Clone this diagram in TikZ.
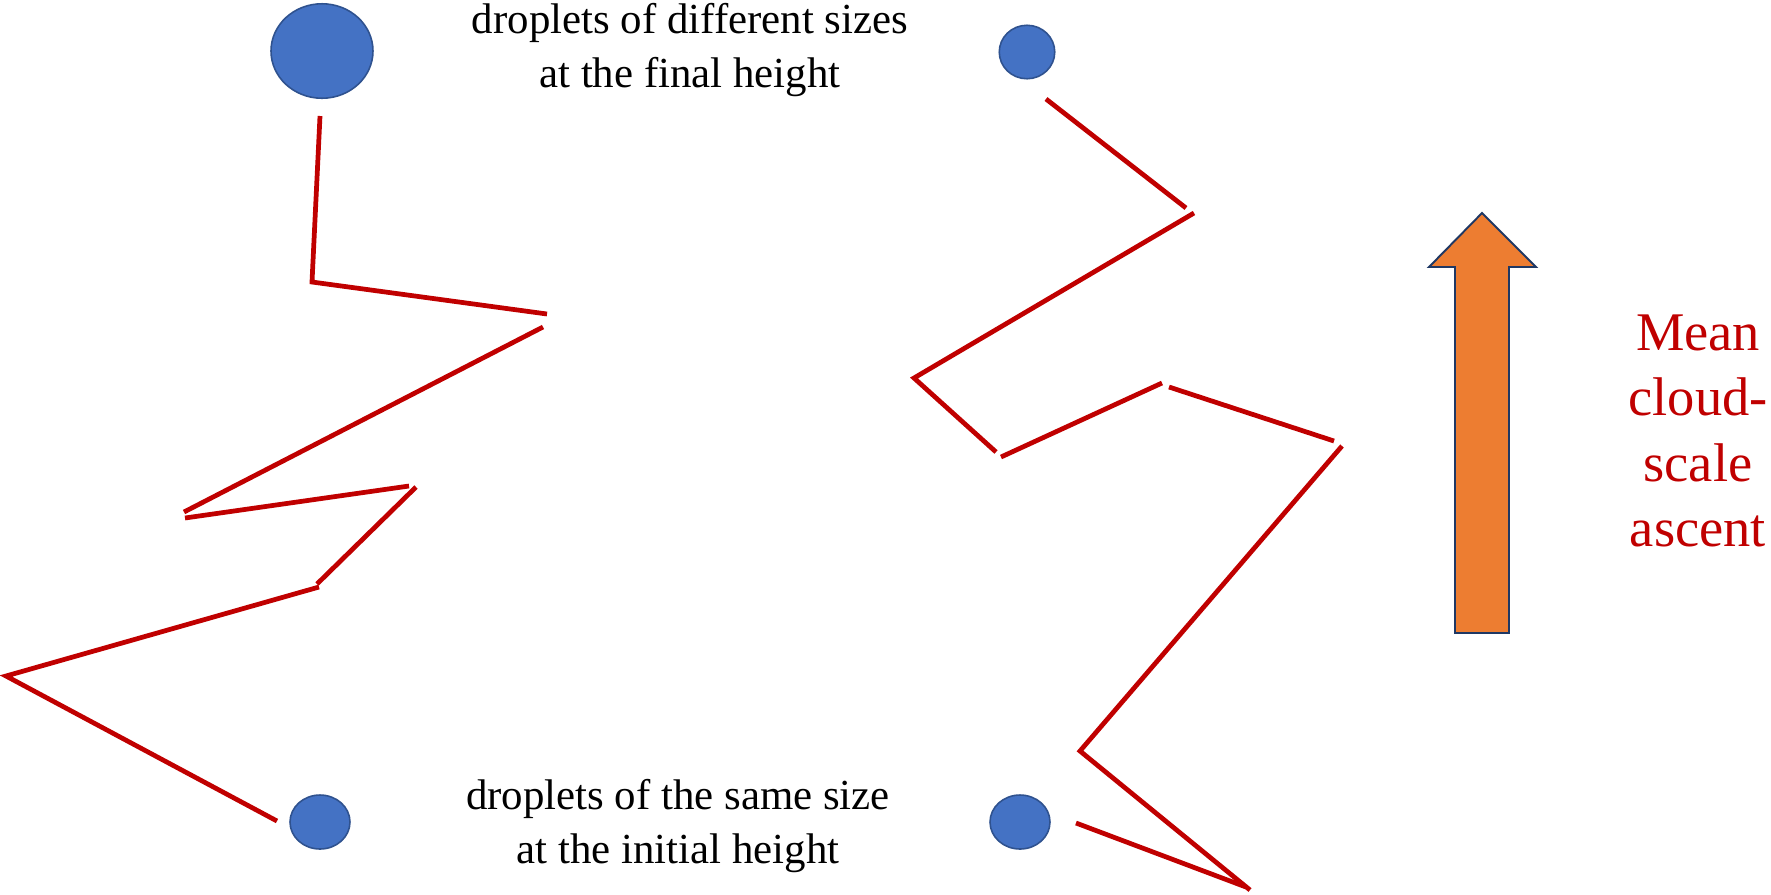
\documentclass[tikz,border=0pt]{standalone}
\usepackage{fontspec}
\setmainfont{Liberation Serif}
\usetikzlibrary{shapes.geometric}
\definecolor{dropblue}{HTML}{4472C4}
\definecolor{dropedge}{HTML}{2F528F}
\definecolor{trackred}{HTML}{C00000}
\definecolor{ascentorange}{HTML}{ED7D31}
\definecolor{ascentedge}{HTML}{1F3864}
\tikzset{
  droplet/.style={
    ellipse,
    draw=dropedge,
    fill=dropblue,
    line width=0.9pt,
    inner sep=0pt
  },
  track/.style={draw=trackred, line width=2.7pt},
  caption/.style={align=center, inner sep=0pt, font=\fontsize{24.4}{31}\selectfont},
  ascentlabel/.style={align=center, inner sep=0pt, text=trackred, font=\fontsize{31}{37.3}\selectfont},
  ascentarrow/.style={draw=ascentedge, fill=ascentorange, line width=1.1pt}
}
\newcommand{\droplet}[4]{\node[droplet, minimum width=#3, minimum height=#4] (#1) at #2 {};}

\begin{document}
\begin{tikzpicture}[x=0.02cm, y=-0.02cm]
  \useasboundingbox (0,0) rectangle (1771,894);
  \droplet{big}{(322,51)}{2.04cm}{1.89cm}
  \droplet{topsmall}{(1027,52)}{1.11cm}{1.07cm}
  \droplet{leftstart}{(320,822)}{1.2cm}{1.08cm}
  \droplet{rightstart}{(1020,822)}{1.2cm}{1.08cm}
  \node[caption] (final) at (690,50) {droplets of different sizes\\at the final height};
  \node[caption] (initial) at (678,826) {droplets of the same size\\at the initial height};
  \node[ascentlabel] (ascent) at (1698,431) {Mean\\cloud-\\scale\\ascent};
  % left trajectory
  \coordinate (a1) at (320,116);  \coordinate (a2) at (312,282);  \coordinate (a3) at (547,314);
  \coordinate (a4) at (543,327);  \coordinate (a5) at (184,512);
  \coordinate (a6) at (185,518);  \coordinate (a7) at (409,486);
  \coordinate (a8) at (416,487);  \coordinate (a9) at (317,584);
  \coordinate (a10) at (319,587); \coordinate (a11) at (6,676);   \coordinate (a12) at (277,821);
  \draw[track] (a1) -- (a2) -- (a3);
  \draw[track] (a4) -- (a5);
  \draw[track] (a6) -- (a7);
  \draw[track] (a8) -- (a9);
  \draw[track] (a10) -- (a11) -- (a12);
  % right trajectory
  \coordinate (b1) at (1046,99);   \coordinate (b2) at (1186,208);
  \coordinate (b3) at (1194,213);  \coordinate (b4) at (914,378);   \coordinate (b5) at (996,452);
  \coordinate (b6) at (1001,457);  \coordinate (b7) at (1162,383);
  \coordinate (b8) at (1169,387);  \coordinate (b9) at (1334,441);
  \coordinate (b10) at (1342,446); \coordinate (b11) at (1080,751); \coordinate (b12) at (1250,890);
  \coordinate (b13) at (1076,823); \coordinate (b14) at (1246,887);
  \draw[track] (b1) -- (b2);
  \draw[track] (b3) -- (b4) -- (b5);
  \draw[track] (b6) -- (b7);
  \draw[track] (b8) -- (b9);
  \draw[track] (b10) -- (b11) -- (b12);
  \draw[track] (b13) -- (b14);
  \draw[ascentarrow] (1455,633) -- (1455,267) -- (1429,267) -- (1482,213)
    -- (1536,267) -- (1509,267) -- (1509,633) -- cycle;
\end{tikzpicture}
\end{document}
